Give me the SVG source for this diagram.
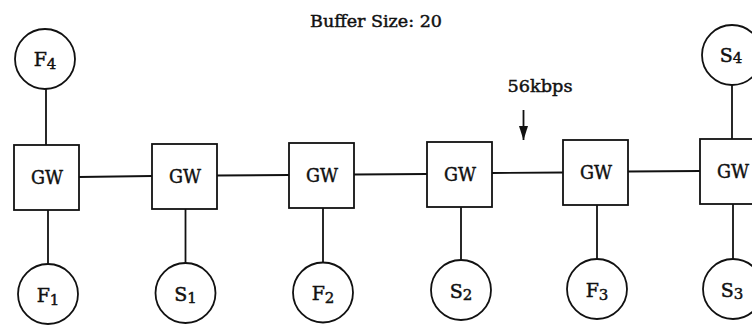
<svg xmlns="http://www.w3.org/2000/svg" width="752" height="325" viewBox="0 0 752 325">
<defs>
<style>
.bx{fill:#fff;stroke:#111;stroke-width:1.8}
.cr{fill:#fff;stroke:#111;stroke-width:1.8}
.ln{stroke:#111;stroke-width:1.8;fill:none}
.t{font-family:"DejaVu Serif","Liberation Serif",serif;font-size:19px;fill:#111;stroke:#111;stroke-width:0.45;text-anchor:middle}
.sub{font-size:15px}
.lbl{font-size:17px}
</style>
<marker id="ah" viewBox="0 0 14 9" refX="14" refY="4.5" markerWidth="14" markerHeight="9" markerUnits="userSpaceOnUse" orient="auto">
<path d="M0,0 L14,4.5 L0,9 Z" fill="#111"/>
</marker>
</defs>
<rect width="752" height="325" fill="#fff"/>
<g id="connectors">
<line class="ln" x1="79" y1="177" x2="152" y2="176"/>
<line class="ln" x1="217" y1="175.5" x2="289" y2="175"/>
<line class="ln" x1="354" y1="174.5" x2="427" y2="174"/>
<line class="ln" x1="492" y1="173" x2="563" y2="172.5"/>
<line class="ln" x1="628" y1="171.5" x2="700" y2="171"/>
<line class="ln" x1="46" y1="89" x2="46" y2="145"/>
<line class="ln" x1="732" y1="85" x2="732" y2="139"/>
<line class="ln" x1="48" y1="210" x2="48" y2="264"/>
<line class="ln" x1="185.5" y1="209" x2="185.5" y2="263"/>
<line class="ln" x1="323" y1="208" x2="323" y2="262.5"/>
<line class="ln" x1="461" y1="207" x2="461" y2="260"/>
<line class="ln" x1="597" y1="205" x2="597" y2="259"/>
<line class="ln" x1="733" y1="204" x2="733" y2="259"/>
</g>
<g id="gw1"><rect class="bx" x="14" y="145" width="65" height="65"/><text class="t" x="47" y="184" textLength="32" lengthAdjust="spacingAndGlyphs">GW</text></g>
<g id="gw2"><rect class="bx" x="152" y="144" width="65" height="65"/><text class="t" x="185" y="183" textLength="32" lengthAdjust="spacingAndGlyphs">GW</text></g>
<g id="gw3"><rect class="bx" x="289" y="143" width="65" height="65"/><text class="t" x="322" y="182" textLength="32" lengthAdjust="spacingAndGlyphs">GW</text></g>
<g id="gw4"><rect class="bx" x="427" y="142" width="65" height="65"/><text class="t" x="460" y="181" textLength="32" lengthAdjust="spacingAndGlyphs">GW</text></g>
<g id="gw5"><rect class="bx" x="563" y="140" width="65" height="65"/><text class="t" x="596" y="179" textLength="32" lengthAdjust="spacingAndGlyphs">GW</text></g>
<g id="gw6"><rect class="bx" x="700" y="139" width="65" height="65"/><text class="t" x="733" y="178" textLength="32" lengthAdjust="spacingAndGlyphs">GW</text></g>
<g id="F4"><circle class="cr" cx="45" cy="59" r="30"/><text class="t" x="45" y="66">F<tspan class="sub" dy="3">4</tspan></text></g>
<g id="S4"><circle class="cr" cx="732" cy="55" r="30"/><text class="t" x="731" y="62">S<tspan class="sub" dy="1">4</tspan></text></g>
<g id="F1"><circle class="cr" cx="48" cy="294" r="30"/><text class="t" x="48" y="302">F<tspan class="sub" dy="3">1</tspan></text></g>
<g id="S1"><circle class="cr" cx="185.5" cy="293" r="30"/><text class="t" x="185.5" y="301">S<tspan class="sub" dy="2">1</tspan></text></g>
<g id="F2"><circle class="cr" cx="323" cy="292.5" r="30"/><text class="t" x="323" y="300">F<tspan class="sub" dy="3">2</tspan></text></g>
<g id="S2"><circle class="cr" cx="461" cy="290" r="30"/><text class="t" x="461" y="298">S<tspan class="sub" dy="2">2</tspan></text></g>
<g id="F3"><circle class="cr" cx="597" cy="289" r="30"/><text class="t" x="597" y="297">F<tspan class="sub" dy="3">3</tspan></text></g>
<g id="S3"><circle class="cr" cx="733" cy="289" r="30"/><text class="t" x="732" y="297">S<tspan class="sub" dy="2">3</tspan></text></g>
<g id="labels">
<text class="t lbl" x="376" y="27" textLength="132" lengthAdjust="spacingAndGlyphs">Buffer Size: 20</text>
<text class="t lbl" x="540" y="92" textLength="65" lengthAdjust="spacingAndGlyphs">56kbps</text>
<line class="ln" x1="523.5" y1="110" x2="523.5" y2="140" marker-end="url(#ah)"/>
</g>
</svg>
